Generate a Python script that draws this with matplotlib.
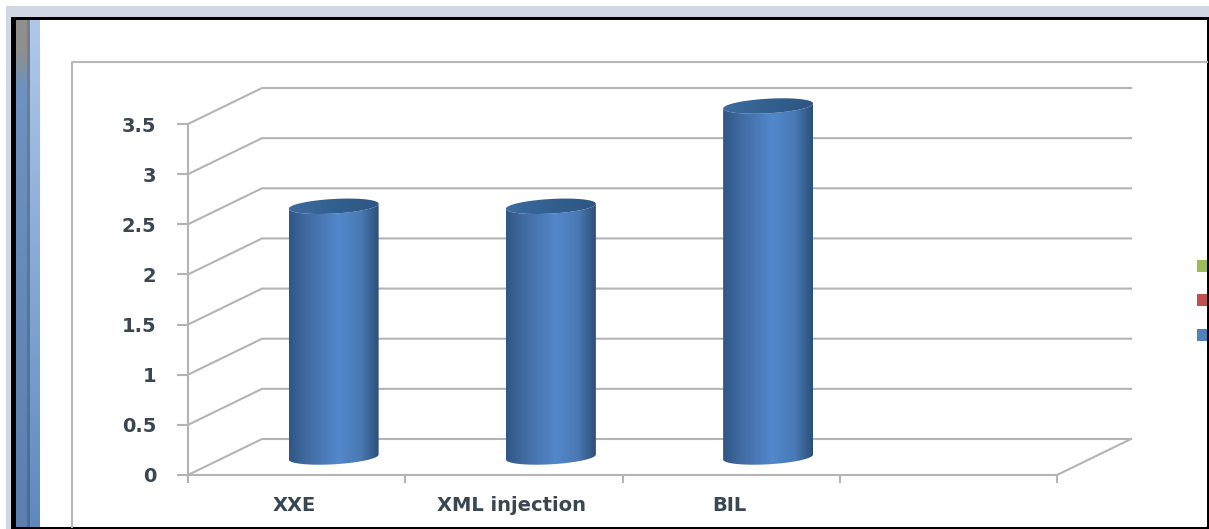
import numpy as np
import matplotlib
matplotlib.use("Agg")
import matplotlib.pyplot as plt
from matplotlib.colors import LinearSegmentedColormap
from matplotlib.patches import Polygon, Rectangle

# Chart values
categories = ["XXE", "XML injection", "BIL", ""]
values = [2.5, 2.5, 3.5]
y_ticks = [0, 0.5, 1, 1.5, 2, 2.5, 3, 3.5]
y_tick_labels = ["0", "0.5", "1", "1.5", "2", "2.5", "3", "3.5"]
legend_colors = ["#9bbb59", "#c0504d", "#4f81bd"]

W, H = 1209, 529
GRID = "#b4b4b4"
TEXT = "#3b4653"

# Plot box of the front plane, in pixels
LEFT, RIGHT, TOP, BOTTOM = 188, 1057, 124, 475
PX_X = (RIGHT - LEFT) / 4
PX_Y = (BOTTOM - TOP) / 3.5
DEPTH_X = 74 / PX_X
DEPTH_Y = 36 / PX_Y

fig = plt.figure(figsize=(W / 100, H / 100), dpi=100, facecolor="white")
plt.rcParams["font.family"] = "DejaVu Sans"

# Window chrome and outer frame around the chart
bg = fig.add_axes([0, 0, 1, 1])
bg.axis("off")
bg.add_patch(Rectangle((6, 6), W - 6, H - 6, color="#d2d7e3", lw=0))
bg.add_patch(Rectangle((11, 17), W - 11, H - 17, color="black", lw=0))
bg.add_patch(Rectangle((16, 20), W - 18, H - 22, color="white", lw=0))

# Left side strip, grey at the top and blue further down
strips = [
  (16, 27, [(0, "#8f8f8f"), (0.06, "#8f8f8f"), (0.13, "#6f93c0"), (1, "#5a80b0")]),
  (27, 30, [(0, "#7d7d7d"), (0.1, "#6d7f96"), (1, "#4a6c97")]),
  (30, 40, [(0, "#b0c9ea"), (0.5, "#86a8d6"), (1, "#5f88bd")]),
]
for x0, x1, stops in strips:
  cm = LinearSegmentedColormap.from_list("strip", stops)
  bg.imshow(np.linspace(0, 1, 256)[:, None], cmap=cm, extent=(x0, x1, H - 2, 20),
            aspect="auto", origin="upper", zorder=2)
bg.set_xlim(0, W)
bg.set_ylim(H, 0)

bg.plot([72, 72, W - 2], [H - 2, 62, 62], color="#b8b8b8", lw=1.5, zorder=3)

for c, yc in zip(legend_colors, [266, 300, 335]):
  bg.add_patch(Rectangle((1197, yc - 6), 10, 12, color=c, lw=0, zorder=3))

# Front plane axes
ax = fig.add_axes([LEFT / W, 1 - BOTTOM / H, (RIGHT - LEFT) / W, (BOTTOM - TOP) / H])
ax.patch.set_alpha(0)
for s in ["top", "right"]:
  ax.spines[s].set_visible(False)
for s in ["left", "bottom"]:
  ax.spines[s].set_color(GRID)
  ax.spines[s].set_linewidth(1.5)

ax.set_yticks(y_ticks)
ax.set_yticklabels(y_tick_labels, fontsize=14, color=TEXT, fontweight="bold")
ax.set_xticks(range(5))
ax.set_xticklabels([])
ax.set_xticks(np.arange(4) + 0.49, categories, minor=True, fontsize=14, color=TEXT,
              fontweight="bold")
ax.tick_params(axis="y", length=8, width=1.5, color=GRID, pad=15)
ax.tick_params(axis="x", which="major", length=6, width=1.5, color=GRID)
ax.tick_params(axis="x", which="minor", length=0, pad=15)

# Back wall gridlines and the diagonals that join them to the value axis
for v in y_ticks:
  ax.plot([0, DEPTH_X, 4 + DEPTH_X], [v, v + DEPTH_Y, v + DEPTH_Y], color=GRID, lw=1.5,
          clip_on=False, zorder=1, solid_joinstyle="miter")
ax.plot([4, 4 + DEPTH_X], [0, DEPTH_Y], color=GRID, lw=1.5, clip_on=False, zorder=1)

# Cylinder shading from the left edge to the right edge
side_cm = LinearSegmentedColormap.from_list(
  "side", [(0, "#2f5685"), (0.18, "#40699f"), (0.55, "#5388cc"), (0.8, "#4a79b4"),
           (1, "#2c4f79")])
cap_cm = LinearSegmentedColormap.from_list("cap", ["#3d6b9f", "#32608f", "#2e5583"])

RX = 45
RY = 7.3
TILT = 2.5


def rim(cx, cy, t):
  # point on the tilted ellipse, returned in data units
  dx = RX * np.cos(t)
  dy = RY * np.sin(t) + TILT * np.cos(t)
  return cx + dx / PX_X, cy + dy / PX_Y


def shaded(poly, cmap, extent, zorder):
  # gradient image cut to the outline, allowed to run past the axes box
  ax.add_patch(poly)
  im = ax.imshow(np.linspace(0, 1, 256)[None, :], cmap=cmap, extent=extent,
                 aspect="auto", zorder=zorder)
  im.set_clip_box(fig.bbox)
  im.set_clip_path(poly)


for i, v in enumerate(values):
  cx = i + 0.5 + DEPTH_X / 2
  base = DEPTH_Y / 2
  top = v + base
  half = RX / PX_X

  # body outline: lower rim front half, then upper rim front half
  t_front = np.linspace(np.pi, 2 * np.pi, 60)
  xb, yb = rim(cx, base, t_front)
  xt, yt = rim(cx, top, t_front[::-1])
  body = Polygon(np.column_stack([np.r_[xb, xt], np.r_[yb, yt]]), closed=True,
                 fc="none", ec="none", clip_on=False)
  shaded(body, side_cm, (cx - half, cx + half, base - 0.2, top + 0.2), 3)

  # top cap
  xc, yc = rim(cx, top, np.linspace(0, 2 * np.pi, 120))
  cap = Polygon(np.column_stack([xc, yc]), closed=True, fc="none", ec="none", clip_on=False)
  shaded(cap, cap_cm, (cx - half, cx + half, top - 0.2, top + 0.2), 4)

ax.set_xlim(0, 4)
ax.set_ylim(0, 3.5)

fig.savefig("out.png", dpi=100)
